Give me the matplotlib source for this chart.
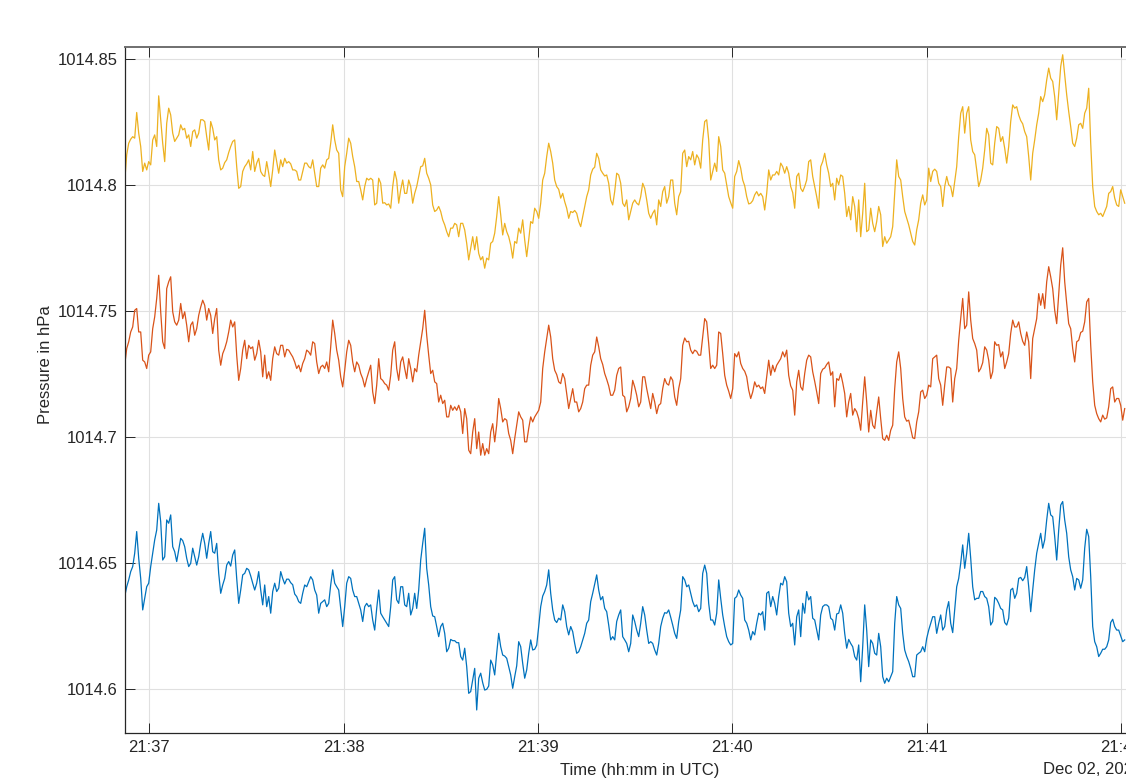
import numpy as np
import pandas as pd
import matplotlib
matplotlib.use('Agg')
import matplotlib.pyplot as plt
import matplotlib.dates as mdates
from matplotlib.ticker import FixedLocator, FuncFormatter

plt.rcParams['font.family'] = ['Liberation Sans', 'DejaVu Sans']

# ---------------- data ----------------
start_time = pd.Timestamp('2022-12-02 21:36:52.394')
sample_period_s = 0.6176

p_yellow = [
1014.8015,1014.8121,1014.8167,1014.8183,1014.8193,1014.8187,1014.8289,1014.8207,1014.8154,1014.8055,
1014.8088,1014.8061,1014.8094,1014.8081,1014.8180,1014.8200,1014.8154,1014.8355,1014.8260,1014.8167,
1014.8094,1014.8246,1014.8306,1014.8279,1014.8207,1014.8174,1014.8187,1014.8200,1014.8240,1014.8220,
1014.8226,1014.8187,1014.8200,1014.8154,1014.8213,1014.8220,1014.8187,1014.8207,1014.8260,1014.8260,
1014.8253,1014.8193,1014.8140,1014.8253,1014.8226,1014.8180,1014.8193,1014.8101,1014.8061,1014.8068,
1014.8090,1014.8101,1014.8130,1014.8154,1014.8174,1014.8180,1014.8074,1014.7988,1014.7995,1014.8055,
1014.8074,1014.8085,1014.8101,1014.8061,1014.8134,1014.8055,1014.8088,1014.8107,1014.8055,1014.8041,
1014.8035,1014.8094,1014.8048,1014.7995,1014.8061,1014.8140,1014.8094,1014.8048,1014.8101,1014.8074,
1014.8107,1014.8088,1014.8094,1014.8085,1014.8061,1014.8061,1014.8055,1014.8021,1014.8021,1014.8055,
1014.8088,1014.8088,1014.8074,1014.8068,1014.8101,1014.8048,1014.7995,1014.7995,1014.8068,1014.8081,
1014.8068,1014.8101,1014.8107,1014.8167,1014.8240,1014.8180,1014.8140,1014.8127,1014.7982,1014.7955,
1014.8074,1014.8127,1014.8187,1014.8167,1014.8114,1014.8074,1014.8015,1014.8015,1014.7982,1014.7942,
1014.7995,1014.8028,1014.8021,
1014.8028,1014.8021,1014.7922,1014.7929,1014.8028,1014.8008,1014.7929,1014.7931,1014.7922,1014.7926,
1014.7909,1014.7995,1014.8055,1014.8021,1014.7929,1014.7982,1014.8021,1014.7968,1014.7968,1014.8021,
1014.7995,1014.7929,1014.7968,1014.7995,1014.8035,1014.8074,1014.8077,1014.8107,1014.8048,1014.8028,
1014.8002,1014.7922,1014.7896,1014.7902,1014.7916,1014.7896,1014.7863,1014.7843,1014.7816,1014.7796,
1014.7830,1014.7830,1014.7849,1014.7843,1014.7796,1014.7849,1014.7849,1014.7823,1014.7770,1014.7704,
1014.7750,1014.7796,1014.7744,1014.7796,1014.7730,1014.7704,1014.7717,1014.7671,1014.7711,1014.7704,
1014.7770,1014.7777,1014.7810,1014.7876,1014.7955,1014.7883,1014.7803,1014.7849,1014.7816,1014.7796,
1014.7763,1014.7711,1014.7777,1014.7770,1014.7830,1014.7810,1014.7863,1014.7783,1014.7717,1014.7783,
1014.7856,1014.7849,1014.7909,1014.7896,1014.7869,1014.7929,1014.8021,1014.8048,1014.8114,1014.8167,
1014.8134,1014.8088,1014.8021,1014.7995,1014.7984,1014.7949,1014.7968,1014.7935,1014.7909,1014.7869,
1014.7896,1014.7892,1014.7900,1014.7889,1014.7856,1014.7836,1014.7876,1014.7916,1014.7955,1014.7982,
1014.8041,1014.8064,1014.8072,1014.8127,1014.8107,1014.8061,1014.8048,1014.8037,1014.8041,1014.8008,
1014.7942,1014.7922,1014.7975,1014.8048,1014.8041,
1014.8008,1014.7929,1014.7916,1014.7942,1014.7863,1014.7896,1014.7929,1014.7942,1014.7929,1014.7922,
1014.7955,1014.8008,1014.7988,1014.7942,1014.7889,1014.7869,1014.7889,1014.7902,1014.7843,1014.7942,
1014.7916,1014.7975,1014.7995,1014.7929,1014.7955,1014.8021,1014.8021,1014.7929,1014.7883,1014.7955,
1014.7975,1014.8127,1014.8140,1014.8074,1014.8114,1014.8101,1014.8134,1014.8081,1014.8121,1014.8107,
1014.8068,1014.8180,1014.8253,1014.8260,1014.8180,1014.8021,1014.8055,1014.8088,1014.8055,1014.8193,
1014.8154,1014.8061,1014.8048,1014.8002,1014.7955,1014.7931,1014.7909,1014.8035,1014.8055,1014.8098,
1014.8068,1014.8021,1014.7998,1014.7955,1014.7926,1014.7929,1014.7939,1014.7962,1014.7975,1014.7958,
1014.7968,1014.7955,1014.7902,1014.7968,1014.8061,1014.8021,1014.8041,1014.8041,1014.8055,1014.8041,
1014.8088,1014.8074,1014.8048,1014.8074,1014.8048,1014.7995,1014.7971,1014.7909,1014.8035,1014.8048,
1014.7988,1014.7975,1014.7995,1014.8021,1014.8094,1014.8101,1014.8035,1014.7995,1014.7955,1014.7909,
1014.8074,1014.8094,1014.8127,1014.8081,1014.8048,1014.7995,1014.8008,1014.7942,1014.8028,1014.8002,
1014.8041,1014.8035,1014.7968,1014.7876,1014.7916,1014.7863,1014.7955,1014.7916,1014.7816,1014.7942,
1014.7796,1014.7889,1014.8008,1014.7816,1014.7823,
1014.7909,1014.7849,1014.7816,1014.7856,1014.7916,1014.7883,1014.7757,1014.7796,1014.7770,1014.7783,
1014.7796,1014.7836,1014.7968,1014.8101,1014.8035,1014.8021,1014.7955,1014.7896,1014.7869,1014.7843,
1014.7810,1014.7777,1014.7763,1014.7823,1014.7863,1014.7929,1014.7962,1014.7922,1014.7942,1014.8068,
1014.8015,1014.8055,1014.8064,1014.8055,1014.8008,1014.7995,1014.7916,1014.7995,1014.8035,1014.8002,
1014.7995,1014.7955,1014.8015,1014.8074,1014.8193,1014.8286,1014.8312,1014.8207,1014.8286,1014.8312,
1014.8180,1014.8134,1014.8121,1014.8061,1014.7995,1014.8021,1014.8068,1014.8140,1014.8226,1014.8200,
1014.8088,1014.8081,1014.8167,1014.8233,1014.8226,1014.8174,1014.8193,1014.8147,1014.8088,1014.8154,
1014.8253,1014.8319,1014.8306,1014.8312,1014.8279,1014.8257,1014.8244,1014.8213,1014.8193,1014.8114,
1014.8021,1014.8127,1014.8180,1014.8240,1014.8286,1014.8352,1014.8332,1014.8359,1014.8418,1014.8465,
1014.8425,1014.8412,1014.8352,1014.8260,1014.8365,1014.8471,1014.8518,1014.8438,1014.8359,1014.8293,
1014.8233,1014.8167,1014.8154,1014.8187,1014.8240,1014.8246,1014.8226,1014.8286,1014.8306,1014.8385,
1014.8167,1014.7995,1014.7916,1014.7896,1014.7883,1014.7889,1014.7876,1014.7896,1014.7916,1014.7968,
1014.7975,1014.7995,1014.7949,1014.7922,1014.7916,1014.7982,1014.7955,1014.7929,
]

p_orange = [
1014.7286,1014.7352,1014.7379,1014.7418,1014.7438,1014.7504,1014.7511,1014.7418,1014.7418,1014.7306,
1014.7299,1014.7273,1014.7326,1014.7339,1014.7431,1014.7478,1014.7551,1014.7643,1014.7498,1014.7379,
1014.7352,1014.7590,1014.7617,1014.7637,1014.7498,1014.7458,1014.7445,1014.7465,1014.7531,1014.7471,
1014.7498,1014.7445,1014.7379,1014.7445,1014.7458,1014.7405,1014.7431,1014.7484,1014.7517,1014.7544,
1014.7524,1014.7465,1014.7511,1014.7484,1014.7412,1014.7471,1014.7511,1014.7346,1014.7286,1014.7332,
1014.7352,1014.7379,1014.7418,1014.7465,1014.7438,1014.7458,1014.7326,1014.7226,1014.7273,1014.7346,
1014.7385,1014.7312,1014.7365,1014.7352,1014.7359,1014.7306,1014.7332,1014.7385,1014.7339,1014.7240,
1014.7326,1014.7233,1014.7260,1014.7226,1014.7312,1014.7359,1014.7332,1014.7326,1014.7365,1014.7365,
1014.7319,1014.7349,1014.7346,1014.7332,1014.7319,1014.7299,1014.7273,1014.7286,1014.7260,1014.7293,
1014.7312,1014.7346,1014.7339,1014.7326,1014.7379,1014.7372,1014.7299,1014.7253,1014.7279,1014.7286,
1014.7273,1014.7299,1014.7260,1014.7359,1014.7465,1014.7412,1014.7346,1014.7306,1014.7240,1014.7200,
1014.7266,1014.7339,1014.7385,1014.7365,1014.7299,1014.7260,1014.7299,1014.7286,1014.7253,1014.7233,
1014.7200,1014.7233,1014.7260,
1014.7286,1014.7180,1014.7134,1014.7207,1014.7312,1014.7233,1014.7226,1014.7213,1014.7207,1014.7187,
1014.7246,1014.7346,1014.7379,1014.7273,1014.7226,1014.7299,1014.7319,1014.7273,1014.7233,1014.7312,
1014.7273,1014.7220,1014.7273,1014.7260,1014.7326,1014.7379,1014.7431,1014.7504,1014.7405,1014.7326,
1014.7253,1014.7266,1014.7220,1014.7213,1014.7140,1014.7167,1014.7134,1014.7147,1014.7081,1014.7081,
1014.7127,1014.7107,1014.7121,1014.7107,1014.7127,1014.7101,1014.7015,1014.7114,1014.7074,1014.6949,
1014.6935,1014.7021,1014.7074,1014.6955,1014.7021,1014.6929,1014.6975,1014.6929,1014.6955,1014.6935,
1014.7021,1014.7054,1014.6982,1014.7048,1014.7154,1014.7114,1014.7061,1014.7074,1014.7068,1014.7015,
1014.6988,1014.6935,1014.6995,1014.7048,1014.7101,1014.7081,1014.7068,1014.6982,1014.6982,1014.7035,
1014.7081,1014.7061,1014.7081,1014.7094,1014.7107,1014.7140,1014.7273,1014.7339,1014.7392,1014.7445,
1014.7398,1014.7312,1014.7266,1014.7249,1014.7220,1014.7213,1014.7253,1014.7233,1014.7174,1014.7114,
1014.7154,1014.7193,1014.7140,1014.7140,1014.7101,1014.7114,1014.7140,1014.7193,1014.7207,1014.7207,
1014.7286,1014.7326,1014.7339,1014.7398,1014.7359,1014.7312,1014.7289,1014.7253,1014.7230,1014.7204,
1014.7167,1014.7167,1014.7187,1014.7246,1014.7273,
1014.7279,1014.7167,1014.7160,1014.7101,1014.7121,1014.7154,1014.7226,1014.7200,1014.7167,1014.7121,
1014.7140,1014.7240,1014.7240,1014.7193,1014.7154,1014.7114,1014.7174,1014.7140,1014.7094,1014.7127,
1014.7134,1014.7193,1014.7233,1014.7213,1014.7207,1014.7240,1014.7226,1014.7160,1014.7127,1014.7193,
1014.7233,1014.7365,1014.7394,1014.7379,1014.7381,1014.7346,1014.7332,1014.7346,1014.7341,1014.7326,
1014.7326,1014.7398,1014.7471,1014.7458,1014.7372,1014.7273,1014.7286,1014.7273,1014.7286,1014.7418,
1014.7412,1014.7332,1014.7246,1014.7207,1014.7183,1014.7154,1014.7193,1014.7332,1014.7319,1014.7339,
1014.7293,1014.7273,1014.7262,1014.7240,1014.7187,1014.7154,1014.7180,1014.7220,1014.7200,1014.7207,
1014.7193,1014.7200,1014.7174,1014.7240,1014.7306,1014.7246,1014.7286,1014.7260,1014.7286,1014.7299,
1014.7312,1014.7339,1014.7319,1014.7346,1014.7246,1014.7204,1014.7187,1014.7088,1014.7220,1014.7266,
1014.7200,1014.7187,1014.7253,1014.7306,1014.7326,1014.7319,1014.7260,1014.7222,1014.7180,1014.7134,
1014.7253,1014.7270,1014.7275,1014.7289,1014.7299,1014.7246,1014.7260,1014.7121,1014.7233,1014.7226,
1014.7253,1014.7217,1014.7174,1014.7081,1014.7140,1014.7174,1014.7088,1014.7114,1014.7101,1014.7074,
1014.7028,1014.7140,1014.7240,1014.7140,1014.7021,
1014.7107,1014.7048,1014.7035,1014.7101,1014.7160,1014.7074,1014.6995,1014.6988,1014.7008,1014.6988,
1014.7028,1014.7048,1014.7193,1014.7299,1014.7339,1014.7273,1014.7154,1014.7081,1014.7064,1014.7068,
1014.7035,1014.6998,1014.6995,1014.7061,1014.7101,1014.7180,1014.7187,1014.7154,1014.7167,1014.7207,
1014.7200,1014.7312,1014.7319,1014.7326,1014.7233,1014.7207,1014.7127,1014.7207,1014.7279,1014.7279,
1014.7273,1014.7140,1014.7233,1014.7273,1014.7385,1014.7471,1014.7551,1014.7431,1014.7445,1014.7577,
1014.7465,1014.7392,1014.7372,1014.7346,1014.7260,1014.7273,1014.7296,1014.7359,1014.7346,1014.7306,
1014.7233,1014.7260,1014.7379,1014.7365,1014.7368,1014.7319,1014.7339,1014.7273,1014.7299,1014.7332,
1014.7412,1014.7465,1014.7438,1014.7438,1014.7458,1014.7412,1014.7381,1014.7365,1014.7418,1014.7379,
1014.7233,1014.7392,1014.7431,1014.7471,1014.7570,1014.7524,1014.7570,1014.7511,1014.7617,1014.7677,
1014.7637,1014.7590,1014.7504,1014.7451,1014.7564,1014.7683,1014.7752,1014.7617,1014.7531,1014.7451,
1014.7431,1014.7352,1014.7299,1014.7379,1014.7385,1014.7416,1014.7421,1014.7458,1014.7537,1014.7551,
1014.7365,1014.7220,1014.7127,1014.7094,1014.7074,1014.7061,1014.7088,1014.7072,1014.7077,1014.7121,
1014.7193,1014.7200,1014.7140,1014.7154,1014.7154,1014.7127,1014.7068,1014.7114,
]

p_blue = [
1014.6368,1014.6407,1014.6434,1014.6467,1014.6487,1014.6540,1014.6626,1014.6520,1014.6440,1014.6315,
1014.6361,1014.6407,1014.6421,1014.6487,1014.6540,1014.6593,1014.6632,1014.6738,1014.6665,1014.6513,
1014.6526,1014.6672,1014.6659,1014.6692,1014.6566,1014.6546,1014.6507,1014.6553,1014.6599,1014.6590,
1014.6566,1014.6520,1014.6487,1014.6500,1014.6560,1014.6526,1014.6493,1014.6526,1014.6579,1014.6619,
1014.6579,1014.6520,1014.6579,1014.6626,1014.6546,1014.6540,1014.6579,1014.6460,1014.6381,1014.6414,
1014.6440,1014.6493,1014.6507,1014.6489,1014.6533,1014.6553,1014.6440,1014.6341,1014.6394,1014.6454,
1014.6460,1014.6480,1014.6474,1014.6450,1014.6421,1014.6394,1014.6421,1014.6467,1014.6394,1014.6335,
1014.6414,1014.6328,1014.6368,1014.6302,1014.6388,1014.6421,1014.6388,1014.6401,1014.6467,1014.6440,
1014.6418,1014.6437,1014.6437,1014.6423,1014.6415,1014.6378,1014.6368,1014.6348,1014.6341,1014.6381,
1014.6414,1014.6407,1014.6427,1014.6447,1014.6434,1014.6394,1014.6374,1014.6302,1014.6341,1014.6348,
1014.6355,1014.6328,1014.6341,1014.6414,1014.6474,1014.6421,1014.6407,1014.6394,1014.6321,1014.6249,
1014.6328,1014.6421,1014.6447,1014.6440,1014.6394,1014.6368,1014.6368,1014.6341,1014.6315,1014.6269,
1014.6328,1014.6341,1014.6328,
1014.6335,1014.6275,1014.6235,1014.6321,1014.6394,1014.6302,1014.6288,1014.6275,1014.6262,1014.6249,
1014.6328,1014.6434,1014.6447,1014.6355,1014.6341,1014.6407,1014.6407,1014.6335,1014.6328,1014.6381,
1014.6295,1014.6321,1014.6381,1014.6321,1014.6394,1014.6513,1014.6579,1014.6639,1014.6480,1014.6414,
1014.6328,1014.6291,1014.6288,1014.6249,1014.6209,1014.6249,1014.6262,1014.6222,1014.6149,1014.6163,
1014.6198,1014.6193,1014.6193,1014.6185,1014.6185,1014.6130,1014.6116,1014.6163,1014.6090,1014.5984,
1014.5991,1014.6037,1014.6083,1014.5918,1014.6044,1014.6064,1014.6026,1014.5997,1014.6000,1014.6013,
1014.6116,1014.6097,1014.6057,1014.6143,1014.6222,1014.6169,1014.6136,1014.6132,1014.6123,1014.6090,
1014.6057,1014.6004,1014.6050,1014.6093,1014.6189,1014.6169,1014.6103,1014.6044,1014.6077,1014.6143,
1014.6196,1014.6156,1014.6159,1014.6175,1014.6249,1014.6328,1014.6370,1014.6388,1014.6414,1014.6474,
1014.6381,1014.6315,1014.6275,1014.6265,1014.6282,1014.6275,1014.6335,1014.6308,1014.6249,1014.6216,
1014.6249,1014.6229,1014.6182,1014.6143,1014.6149,1014.6169,1014.6196,1014.6222,1014.6262,1014.6275,
1014.6348,1014.6381,1014.6418,1014.6454,1014.6394,1014.6355,1014.6368,1014.6321,1014.6308,1014.6255,
1014.6196,1014.6209,1014.6196,1014.6269,1014.6295,
1014.6315,1014.6209,1014.6196,1014.6182,1014.6149,1014.6182,1014.6295,1014.6269,1014.6235,1014.6209,
1014.6262,1014.6328,1014.6295,1014.6235,1014.6182,1014.6189,1014.6182,1014.6156,1014.6136,1014.6182,
1014.6249,1014.6282,1014.6304,1014.6302,1014.6315,1014.6286,1014.6255,1014.6222,1014.6202,1014.6269,
1014.6315,1014.6447,1014.6434,1014.6407,1014.6414,1014.6381,1014.6348,1014.6328,1014.6335,1014.6308,
1014.6321,1014.6460,1014.6493,1014.6460,1014.6341,1014.6275,1014.6275,1014.6255,1014.6302,1014.6434,
1014.6361,1014.6295,1014.6249,1014.6209,1014.6189,1014.6176,1014.6182,1014.6361,1014.6368,1014.6394,
1014.6374,1014.6361,1014.6275,1014.6262,1014.6235,1014.6196,1014.6229,1014.6216,1014.6262,1014.6302,
1014.6295,1014.6308,1014.6235,1014.6381,1014.6388,1014.6328,1014.6368,1014.6341,1014.6295,1014.6368,
1014.6421,1014.6414,1014.6447,1014.6427,1014.6302,1014.6249,1014.6262,1014.6176,1014.6288,1014.6315,
1014.6209,1014.6341,1014.6302,1014.6388,1014.6355,1014.6368,1014.6282,1014.6275,1014.6235,1014.6196,
1014.6295,1014.6328,1014.6335,1014.6335,1014.6328,1014.6282,1014.6275,1014.6235,1014.6299,1014.6302,
1014.6335,1014.6302,1014.6222,1014.6163,1014.6198,1014.6182,1014.6169,1014.6130,1014.6116,1014.6176,
1014.6030,1014.6169,1014.6335,1014.6235,1014.6090,
1014.6196,1014.6182,1014.6143,1014.6136,1014.6222,1014.6169,1014.6050,1014.6024,1014.6044,1014.6030,
1014.6050,1014.6070,1014.6262,1014.6368,1014.6335,1014.6321,1014.6222,1014.6156,1014.6130,1014.6110,
1014.6083,1014.6050,1014.6050,1014.6136,1014.6143,1014.6149,1014.6169,1014.6149,1014.6202,1014.6235,
1014.6262,1014.6288,1014.6288,1014.6222,1014.6262,1014.6295,1014.6235,1014.6249,1014.6315,1014.6348,
1014.6262,1014.6225,1014.6315,1014.6407,1014.6440,1014.6500,1014.6573,1014.6480,1014.6540,1014.6619,
1014.6520,1014.6407,1014.6355,1014.6361,1014.6361,1014.6388,1014.6388,1014.6368,1014.6361,1014.6328,
1014.6255,1014.6269,1014.6365,1014.6357,1014.6341,1014.6321,1014.6315,1014.6265,1014.6255,1014.6282,
1014.6394,1014.6401,1014.6361,1014.6381,1014.6440,1014.6444,1014.6431,1014.6444,1014.6487,1014.6407,
1014.6308,1014.6394,1014.6474,1014.6540,1014.6579,1014.6619,1014.6560,1014.6593,1014.6672,1014.6738,
1014.6692,1014.6685,1014.6606,1014.6513,1014.6632,1014.6731,1014.6745,1014.6672,1014.6619,1014.6526,
1014.6474,1014.6447,1014.6394,1014.6440,1014.6434,1014.6401,1014.6434,1014.6560,1014.6635,1014.6606,
1014.6447,1014.6249,1014.6189,1014.6169,1014.6130,1014.6143,1014.6159,1014.6159,1014.6169,1014.6196,
1014.6265,1014.6278,1014.6249,1014.6235,1014.6235,1014.6212,1014.6189,1014.6196,
]

x_ticks = pd.date_range('2022-12-02 21:37', '2022-12-02 21:42', freq='1min')
y_ticks = [1014.6, 1014.65, 1014.7, 1014.75, 1014.8, 1014.85]
x_label = 'Time (hh:mm in UTC)'
y_label = 'Pressure in hPa'
date_label = 'Dec 02, 2022'

series = [
    ('blue', p_blue, '#0072BD'),
    ('orange', p_orange, '#D95319'),
    ('yellow', p_yellow, '#EDB120'),
]

# ---------------- figure ----------------
W, H = 1126, 780
fig = plt.figure(figsize=(W / 100, H / 100), dpi=100)
ax_left, ax_right, ax_top, ax_bottom = 124.7, 1153.0, 47.3, 733.0
ax = fig.add_axes([ax_left / W, 1 - ax_bottom / H,
                   (ax_right - ax_left) / W, (ax_bottom - ax_top) / H])

for name, vals, col in series:
    t = start_time + pd.to_timedelta(np.arange(len(vals)) * sample_period_s, unit='s')
    ax.plot(t.to_numpy(), vals, color=col, lw=0.9)

span_s = (ax_right - ax_left) * 0.3088
ax.set_xlim(start_time.to_datetime64(),
            (start_time + pd.Timedelta(seconds=span_s)).to_datetime64())
ax.set_ylim(1014.58266, 1014.85476)

ax.xaxis.set_major_locator(FixedLocator(mdates.date2num(x_ticks.to_pydatetime())))
ax.xaxis.set_major_formatter(mdates.DateFormatter('%H:%M'))
ax.yaxis.set_major_locator(FixedLocator(y_ticks))
ax.yaxis.set_major_formatter(FuncFormatter(lambda v, p: f'{v:.2f}'.rstrip('0').rstrip('.')))

ax.tick_params(axis='both', which='major', direction='in', length=7.5, width=0.7,
               top=True, right=True, labelsize=12, colors='#262626')
ax.tick_params(axis='y', pad=5)
ax.tick_params(axis='x', pad=5)

ax.grid(True, color='#e0e0e0', lw=0.8)
ax.set_axisbelow(True)
for side in ['left', 'bottom', 'right']:
    ax.spines[side].set_color('#262626')
    ax.spines[side].set_linewidth(0.9)
ax.spines['top'].set_color('#6f6f6f')
ax.spines['top'].set_linewidth(1.4)

fig.text(46 / W, 1 - 365 / H, y_label, rotation=90, ha='center', va='center',
         fontsize=12, color='#262626')
fig.text(640 / W, 1 - 770 / H, x_label, ha='center', va='center',
         fontsize=12, color='#262626')
fig.text(1043 / W, 1 - 770 / H, date_label, ha='left', va='center',
         fontsize=12, color='#262626')

fig.savefig('out.png', dpi=100)
